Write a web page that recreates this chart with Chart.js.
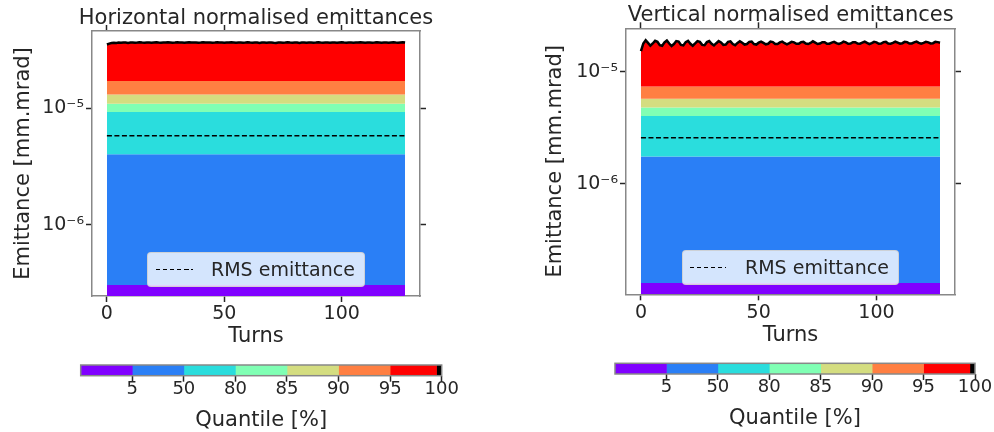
<!DOCTYPE html>
<html><head><meta charset="utf-8">
<script src="https://cdn.jsdelivr.net/npm/chart.js@4/dist/chart.umd.min.js"></script>
<style>
html,body{margin:0;padding:0;background:#fff;}
#wrap{position:relative;width:994px;height:432px;overflow:hidden;font-family:'DejaVu Sans',sans-serif;}
canvas{position:absolute;top:0;}
.legend{position:absolute;background:rgba(255,255,255,0.8);border:1px solid rgba(204,204,204,0.8);border-radius:4px;box-sizing:border-box;}
.legend .dash{position:absolute;height:1.3px;background:repeating-linear-gradient(to right,#000 0 4.5px,transparent 4.5px 7px);}
.legend .txt{position:absolute;font-size:19px;line-height:19px;color:#262626;white-space:nowrap;}
</style></head>
<body><div id="wrap">
<canvas id="cH" width="512" height="432" style="left:0px;"></canvas>
<canvas id="cV" width="517" height="432" style="left:532px;"></canvas>
<canvas id="cbH" width="994" height="432" style="left:0px;"></canvas>
<canvas id="cbV" width="994" height="432" style="left:0px;"></canvas>
<div class="legend" id="legH" style="left:147px;top:252px;width:218px;height:35px;"><div class="dash" style="left:8px;top:15.5px;width:37px;"></div><div class="txt" style="left:63px;top:7px;"></div></div>
<div class="legend" id="legV" style="left:682px;top:250px;width:217px;height:35px;"><div class="dash" style="left:7px;top:16px;width:36px;"></div><div class="txt" style="left:62px;top:7px;"></div></div>
</div>
<script>
// ---------------- data ----------------
const turns = [0,1,2,3,4,5,6,7,8,9,10,11,12,13,14,15,16,17,18,19,20,21,22,23,24,25,26,27,28,29,30,31,32,33,34,35,36,37,38,39,40,41,42,43,44,45,46,47,48,49,50,51,52,53,54,55,56,57,58,59,60,61,62,63,64,65,66,67,68,69,70,71,72,73,74,75,76,77,78,79,80,81,82,83,84,85,86,87,88,89,90,91,92,93,94,95,96,97,98,99,100,101,102,103,104,105,106,107,108,109,110,111,112,113,114,115,116,117,118,119,120,121,122,123,124,125,126,127];
const bandTurns = [0, 127];

// Horizontal plane (mm.mrad)
const hMax = [3.52e-5,3.58e-5,3.62e-5,3.64e-5,3.63e-5,3.65e-5,3.64e-5,3.66e-5,3.65e-5,3.63e-5,
3.65e-5,3.66e-5,3.64e-5,3.65e-5,3.67e-5,3.65e-5,3.64e-5,3.66e-5,3.65e-5,3.64e-5,
3.66e-5,3.67e-5,3.65e-5,3.64e-5,3.66e-5,3.65e-5,3.67e-5,3.66e-5,3.64e-5,3.65e-5,
3.67e-5,3.66e-5,3.65e-5,3.64e-5,3.66e-5,3.68e-5,3.66e-5,3.65e-5,3.66e-5,3.64e-5,
3.65e-5,3.67e-5,3.66e-5,3.65e-5,3.66e-5,3.64e-5,3.65e-5,3.67e-5,3.66e-5,3.65e-5,
3.64e-5,3.66e-5,3.65e-5,3.67e-5,3.66e-5,3.64e-5,3.65e-5,3.66e-5,3.64e-5,3.65e-5,
3.67e-5,3.65e-5,3.64e-5,3.66e-5,3.65e-5,3.63e-5,3.65e-5,3.66e-5,3.64e-5,3.65e-5,
3.66e-5,3.64e-5,3.63e-5,3.65e-5,3.66e-5,3.64e-5,3.65e-5,3.67e-5,3.65e-5,3.64e-5,
3.66e-5,3.65e-5,3.63e-5,3.65e-5,3.66e-5,3.64e-5,3.65e-5,3.66e-5,3.64e-5,3.65e-5,
3.67e-5,3.65e-5,3.64e-5,3.66e-5,3.65e-5,3.64e-5,3.66e-5,3.65e-5,3.64e-5,3.66e-5,
3.67e-5,3.65e-5,3.64e-5,3.66e-5,3.65e-5,3.64e-5,3.66e-5,3.65e-5,3.67e-5,3.66e-5,
3.64e-5,3.65e-5,3.66e-5,3.64e-5,3.65e-5,3.67e-5,3.66e-5,3.64e-5,3.65e-5,3.66e-5,
3.64e-5,3.66e-5,3.67e-5,3.65e-5,3.64e-5,3.66e-5,3.68e-5,3.66e-5];
const hQ95 = [1.71e-5, 1.71e-5];
const hQ90 = [1.31e-5, 1.31e-5];
const hQ85 = [1.094e-5, 1.094e-5];
const hQ80 = [9.3e-6, 9.3e-6];
const hQ50 = [4.04e-6, 4.04e-6];
const hQ5  = [3.06e-7, 3.06e-7];
const hRms = [5.82e-6, 5.82e-6];

// Vertical plane (mm.mrad)
const vMax = [1.52e-5,1.78e-5,1.90e-5,1.80e-5,1.70e-5,1.78e-5,1.88e-5,1.84e-5,1.72e-5,1.70e-5,
1.82e-5,1.89e-5,1.78e-5,1.69e-5,1.76e-5,1.87e-5,1.85e-5,1.73e-5,1.71e-5,1.83e-5,
1.88e-5,1.77e-5,1.70e-5,1.78e-5,1.87e-5,1.84e-5,1.73e-5,1.72e-5,1.83e-5,1.87e-5,
1.77e-5,1.71e-5,1.79e-5,1.87e-5,1.82e-5,1.73e-5,1.74e-5,1.84e-5,1.86e-5,1.76e-5,
1.72e-5,1.80e-5,1.86e-5,1.81e-5,1.74e-5,1.76e-5,1.84e-5,1.85e-5,1.76e-5,1.74e-5,
1.81e-5,1.85e-5,1.80e-5,1.75e-5,1.77e-5,1.85e-5,1.83e-5,1.76e-5,1.76e-5,1.82e-5,
1.85e-5,1.79e-5,1.75e-5,1.79e-5,1.84e-5,1.82e-5,1.77e-5,1.77e-5,1.83e-5,1.84e-5,
1.78e-5,1.76e-5,1.80e-5,1.86e-5,1.81e-5,1.76e-5,1.78e-5,1.83e-5,1.83e-5,1.77e-5,
1.77e-5,1.81e-5,1.84e-5,1.79e-5,1.76e-5,1.79e-5,1.85e-5,1.82e-5,1.77e-5,1.78e-5,
1.83e-5,1.83e-5,1.78e-5,1.77e-5,1.81e-5,1.85e-5,1.80e-5,1.76e-5,1.79e-5,1.84e-5,
1.82e-5,1.77e-5,1.78e-5,1.83e-5,1.84e-5,1.78e-5,1.77e-5,1.80e-5,1.85e-5,1.81e-5,
1.77e-5,1.79e-5,1.84e-5,1.83e-5,1.78e-5,1.78e-5,1.82e-5,1.85e-5,1.80e-5,1.77e-5,
1.80e-5,1.84e-5,1.82e-5,1.78e-5,1.79e-5,1.84e-5,1.83e-5,1.81e-5];
const vQ95 = [7.35e-6, 7.35e-6];
const vQ90 = [5.72e-6, 5.72e-6];
const vQ85 = [4.78e-6, 4.78e-6];
const vQ80 = [4.03e-6, 4.03e-6];
const vQ50 = [1.75e-6, 1.75e-6];
const vQ5  = [1.31e-7, 1.31e-7];
const vRms = [2.57e-6, 2.57e-6];

// ticks, labels, colours
const xTickValues = [0, 50, 100];
const yTickValues = [1e-6, 1e-5];
const yTickLabels = ['10⁻⁶', '10⁻⁵'];
const quantileLabels = ['5', '50', '80', '85', '90', '95', '100'];
const bandColors = ['#8000ff', '#2a7ff6', '#2adddd', '#80ffb4', '#d4dd80', '#ff7f42', '#ff0000'];
const cbSegments = [[0,1],[1,2],[2,3],[3,4],[4,5],[5,6],[6,6.9],[6.9,7]];
const cbColors = ['#8000ff', '#2a7ff6', '#2adddd', '#80ffb4', '#d4dd80', '#ff7f42', '#ff0000', '#000000'];
const rmsLabel = 'RMS emittance';
const titles = ['Horizontal normalised emittances', 'Vertical normalised emittances'];
const xLabel = 'Turns';
const yLabel = 'Emittance [mm.mrad]';
const cbLabel = 'Quantile [%]';

// ---------------- chart ----------------
Chart.defaults.font.family = "'DejaVu Sans', sans-serif";
Chart.defaults.color = '#262626';
const TXT = '#262626', FRAME = '#888888';

function pts(xs, ys) { return xs.map((x, i) => ({x: x, y: ys[i]})); }

function makePanel(id, title, series, g) {
  const gridOpts = {drawOnChartArea: false, drawTicks: true, tickLength: 6, tickWidth: 1.5, tickColor: TXT};
  const borderOpts = {display: true, color: FRAME, width: 1.5};
  const setX = s => { s.ticks = xTickValues.map(v => ({value: v})); };
  const setY = s => { s.ticks = yTickValues.map(v => ({value: v})); };
  const band = (data, color, fill, order) => ({data: pts(bandTurns, data), borderWidth: 0, borderColor: color,
      backgroundColor: color, fill: fill, pointRadius: 0, tension: 0, order: order});
  return new Chart(document.getElementById(id), {
    type: 'line',
    data: {datasets: [
      {label: rmsLabel, data: pts(bandTurns, series.rms), borderColor: '#000', borderWidth: 1.5,
       borderDash: [5, 2.5], pointRadius: 0, fill: false, order: 0},
      {label: '100', data: pts(turns, series.max), borderColor: '#000', borderWidth: 2.5,
       backgroundColor: bandColors[6], fill: '+1', pointRadius: 0, tension: 0, order: 1},
      band(series.q95, bandColors[5], '+1', 2),
      band(series.q90, bandColors[4], '+1', 3),
      band(series.q85, bandColors[3], '+1', 4),
      band(series.q80, bandColors[2], '+1', 5),
      band(series.q50, bandColors[1], '+1', 6),
      band(series.q5, bandColors[0], 'start', 7)
    ]},
    options: {
      responsive: false, animation: false, events: [],
      layout: {padding: g.pad},
      plugins: {
        legend: {display: false}, tooltip: {enabled: false},
        title: {display: true, text: title, color: TXT,
                font: {size: 21, weight: 'normal'}, padding: {top: g.titleTop, bottom: 0}}
      },
      scales: {
        x: {type: 'linear', position: 'bottom', min: -6.35, max: 133.35, z: 1,
            afterBuildTicks: setX, afterFit: s => { s.height = 60; },
            ticks: {font: {size: 19}, color: TXT, padding: 1, maxRotation: 0, autoSkip: false},
            grid: gridOpts, border: borderOpts,
            title: {display: true, text: xLabel, color: TXT, font: {size: 21}, padding: {top: 0, bottom: g.xTitlePad}}},
        xTop: {type: 'linear', position: 'top', min: -6.35, max: 133.35, z: 1,
            afterBuildTicks: setX, afterFit: s => { s.height = 0; },
            ticks: {display: false}, grid: gridOpts, border: borderOpts},
        y: {type: 'logarithmic', position: 'left', min: g.ymin, max: g.ymax, z: 1,
            afterBuildTicks: setY, afterFit: s => { s.width = g.yw; },
            ticks: {font: {size: 19}, color: TXT, padding: 2, autoSkip: false,
                    callback: (v, i) => yTickLabels[i]},
            grid: gridOpts, border: borderOpts,
            title: {display: true, text: yLabel, color: TXT, font: {size: 21}, padding: {top: 11, bottom: 0}}},
        yRight: {type: 'logarithmic', position: 'right', min: g.ymin, max: g.ymax, z: 1,
            afterBuildTicks: setY, afterFit: s => { s.width = g.yrw; },
            ticks: {display: false}, grid: gridOpts, border: borderOpts}
      }
    }
  });
}

const framePlugin = {
  id: 'cbFrame',
  afterDatasetsDraw(chart) {
    const a = chart.chartArea, ctx = chart.ctx;
    ctx.save(); ctx.strokeStyle = FRAME; ctx.lineWidth = 1.5;
    ctx.strokeRect(a.left, a.top, a.right - a.left, a.bottom - a.top);
    ctx.restore();
  }
};

function makeColorbar(id, pad) {
  return new Chart(document.getElementById(id), {
    type: 'bar',
    data: {labels: [''], datasets: cbSegments.map((seg, i) => ({
      data: [seg], backgroundColor: cbColors[i], borderWidth: 0,
      barPercentage: 1, categoryPercentage: 1, grouped: false}))},
    options: {
      indexAxis: 'y', responsive: false, animation: false, events: [],
      layout: {padding: pad},
      plugins: {legend: {display: false}, tooltip: {enabled: false}},
      scales: {
        x: {type: 'linear', min: 0, max: 7,
            afterBuildTicks: s => { s.ticks = quantileLabels.map((q, i) => ({value: i + 1})); },
            afterFit: s => { s.height = 56; },
            ticks: {font: {size: 18, lineHeight: 1}, color: TXT, padding: -1.5, maxRotation: 0, autoSkip: false,
                    callback: (v, i) => quantileLabels[i]},
            grid: {drawOnChartArea: false, drawTicks: true, tickLength: 6, tickWidth: 1.5, tickColor: TXT},
            border: {display: false},
            title: {display: true, text: cbLabel, color: TXT, font: {size: 21}, padding: {top: 0, bottom: -1.5}}},
        y: {display: false}
      }
    },
    plugins: [framePlugin]
  });
}

makePanel('cH', titles[0],
  {max: hMax, q95: hQ95, q90: hQ90, q85: hQ85, q80: hQ80, q50: hQ50, q5: hQ5, rms: hRms},
  {pad: {left: 0, right: 0, top: 0, bottom: 76}, titleTop: 5.8, xTitlePad: 6.4, yw: 92, yrw: 92,
   ymin: 2.46e-7, ymax: 4.59e-5});
makePanel('cV', titles[1],
  {max: vMax, q95: vQ95, q90: vQ90, q85: vQ85, q80: vQ80, q50: vQ50, q5: vQ5, rms: vRms},
  {pad: {left: 0.4, right: 0, top: 0, bottom: 77.7}, titleTop: 3.1, xTitlePad: 5.7, yw: 93.6, yrw: 94,
   ymin: 1.04e-7, ymax: 2.43e-5});
makeColorbar('cbH', {left: 80.7, right: 552.3, top: 365, bottom: 0.3});
makeColorbar('cbV', {left: 615, right: 19, top: 363.3, bottom: 2});

document.querySelector('#legH .txt').textContent = rmsLabel;
document.querySelector('#legV .txt').textContent = rmsLabel;
</script>
</body></html>
